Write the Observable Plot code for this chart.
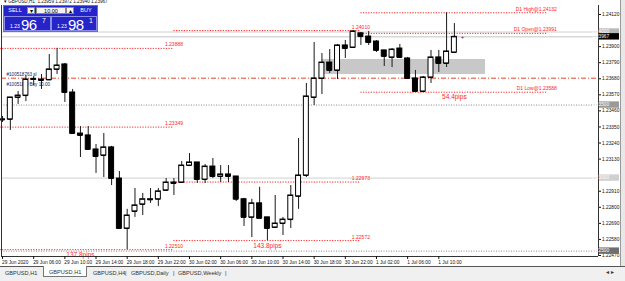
<!DOCTYPE html>
<html><head><meta charset="utf-8">
<script src="https://cdn.jsdelivr.net/npm/d3@7"></script>
<script src="https://cdn.jsdelivr.net/npm/@observablehq/plot@0.6"></script>
<style>
body{margin:0;background:#fff;font-family:"Liberation Sans",Arial,sans-serif;}
#wrap{position:relative;width:625px;height:281px;overflow:hidden;background:#fff;}
#chart svg{display:block}
#title{position:absolute;left:4px;top:-1px;font-size:4.6px;color:#111;white-space:pre}
#panel{position:absolute;left:3px;top:5px;width:95px;height:27px;background:#2424c8;border:1px solid #6a6ae0;box-sizing:border-box}
.b{position:absolute;color:#fff;font-size:5.5px;text-align:center;line-height:8px}
.w{position:absolute;background:#f2f2f2;color:#000;font-size:5.5px;text-align:center;line-height:7px;border:1px solid #888;box-sizing:border-box}
.px{position:absolute;top:10px;height:15px;border:1px solid #8a8ae8;box-sizing:border-box;color:#fff}
.px .s{position:absolute;left:5px;top:6px;font-size:5px}
.px .big{position:absolute;left:16px;top:-1px;font-size:15px;letter-spacing:-0.5px}
.px .sup{position:absolute;left:37px;top:0px;font-size:7px}
#tabs{position:absolute;left:0;top:266px;width:625px;height:15px;background:#f0f0f0;border-top:1px solid #555;box-sizing:border-box;font-size:5.6px;color:#333}
#tabs span{position:absolute;top:3px}
#tabs .act{top:-1px;height:11px;background:#fff;border:1px solid #777;border-top:none;box-sizing:border-box;padding:3px 5px 0 5px}
#strip{position:absolute;left:620px;top:0;width:5px;height:266px;background:#e8e8e8;border-left:1px solid #999}
</style></head><body>
<div id="wrap">
<div id="chart"></div>
<div id="title">▾ GBPUSD,H1  1.23959 1.23972 1.23940 1.23967</div>
<div id="panel">
  <div class="b" style="left:0;top:0;width:22px;height:9px">SELL</div>
  <div class="w" style="left:23px;top:1px;width:8px;height:7px">▾</div>
  <div class="w" style="left:32px;top:1px;width:30px;height:7px">10.00</div>
  <div class="w" style="left:62px;top:1px;width:8px;height:7px">▴</div>
  <div class="b" style="left:71px;top:0;width:22px;height:9px">BUY</div>
  <div class="px" style="left:0;width:47px"><span class="s">1.23</span><span class="big">96</span><span class="sup">7</span></div>
  <div class="px" style="left:47px;width:46px"><span class="s">1.23</span><span class="big">98</span><span class="sup">1</span></div>
</div>
<div id="strip"></div>
<div id="tabs">
  <span style="left:5px">GBPUSD,H1</span>
  <span class="act" style="left:43px">GBPUSD,H1</span>
  <span style="left:93px">GBPUSD,H4</span><span style="left:125px">|</span>
  <span style="left:131px">GBPUSD,Daily</span><span style="left:173px">|</span>
  <span style="left:178px">GBPUSD,Weekly</span><span style="left:225px">|</span>
  <span style="left:606px;top:2px">◂ ▸</span>
</div>
</div>
<script>
// ---- data (GBPUSD H1) ----
const firstBar = "2020-06-29T02:00Z";
const opens = [1.23402,1.23402,1.23552,1.23565,1.23675,1.23675,1.23672,1.23744,1.23778,1.23586,
1.23305,1.23292,1.23196,1.23155,1.23210,1.22997,1.22655,1.22772,1.22820,1.22855,
1.22855,1.22916,1.22970,1.22970,1.23086,1.23107,1.22990,1.23079,1.23011,1.23025,
1.23011,1.22855,1.22731,1.22827,1.22731,1.22662,1.22689,1.22716,1.22875,1.23018,
1.23552,1.23682,1.23791,1.23737,1.23908,1.23894,1.23991,1.23969,1.23935,1.23874,
1.23826,1.23887,1.23819,1.23682,1.23593,1.23689,1.23826,1.23785,1.23860];
const highs = [1.23422,1.23552,1.23593,1.23702,1.23696,1.23709,1.23846,1.23888,1.23785,1.23607,
1.23353,1.23353,1.23230,1.23305,1.23217,1.23045,1.22786,1.22929,1.22895,1.22929,
1.22929,1.22997,1.22997,1.23114,1.23168,1.23107,1.23093,1.23134,1.23086,1.23086,
1.23011,1.22861,1.22855,1.22937,1.22731,1.22881,1.22731,1.22949,1.23271,1.23648,
1.23928,1.23853,1.23880,1.23915,1.23942,1.24010,1.23997,1.24004,1.23942,1.23874,
1.23887,1.23915,1.23826,1.23737,1.23696,1.23874,1.23874,1.24132,1.24058];
const lows = [1.23381,1.23326,1.23504,1.23524,1.23634,1.23607,1.23668,1.23709,1.23518,1.23305,
1.23141,1.23196,1.23032,1.23004,1.22949,1.22655,1.22510,1.22731,1.22744,1.22827,
1.22806,1.22909,1.22881,1.22963,1.23079,1.22963,1.22963,1.22997,1.22970,1.22970,
1.22840,1.22669,1.22593,1.22724,1.22572,1.22662,1.22607,1.22655,1.22786,1.23004,
1.23497,1.23572,1.23716,1.23675,1.23819,1.23887,1.23908,1.23908,1.23860,1.23764,
1.23757,1.23819,1.23675,1.23588,1.23588,1.23648,1.23723,1.23757,1.23853];
const closes = [1.23398,1.23552,1.23565,1.23675,1.23678,1.23668,1.23744,1.23771,1.23586,1.23305,
1.23292,1.23196,1.23148,1.23210,1.22997,1.22655,1.22744,1.22813,1.22855,1.22851,
1.22909,1.22970,1.22963,1.23086,1.23107,1.22990,1.23079,1.23011,1.23025,1.23011,
1.22855,1.22731,1.22827,1.22724,1.22655,1.22689,1.22716,1.22881,1.23018,1.23559,
1.23682,1.23791,1.23737,1.23908,1.23887,1.24004,1.23969,1.23928,1.23874,1.23833,
1.23880,1.23826,1.23682,1.23593,1.23689,1.23826,1.23785,1.23867,1.23967];

const dayStarts = ["2020-06-29T00:00Z","2020-06-30T00:00Z","2020-07-01T00:00Z"];
const dayEnds   = ["2020-06-30T00:00Z","2020-07-01T00:00Z","2020-07-02T00:00Z"];
const dayHighs  = [1.23888, 1.24010, 1.24132];
const dayLows   = [1.22510, 1.22572, 1.23588];
const dayOpens  = [1.23349, 1.22973, 1.23991];
const dayPips   = ["137.8pips", "143.8pips", "54.4pips"];

const yTicks = [1.24120,1.23900,1.23790,1.23680,1.23570,1.23460,1.23350,1.23240,1.23130,1.22910,1.22800,1.22690,1.22580,1.22470];
const xTickTimes = ["2020-06-29T02:00Z","2020-06-29T06:00Z","2020-06-29T10:00Z","2020-06-29T14:00Z","2020-06-29T18:00Z","2020-06-29T22:00Z","2020-06-30T02:00Z","2020-06-30T06:00Z","2020-06-30T10:00Z","2020-06-30T14:00Z","2020-06-30T18:00Z","2020-06-30T22:00Z","2020-07-01T02:00Z","2020-07-01T06:00Z","2020-07-01T10:00Z"];
const xTickLabels = ["29 Jun 2020","29 Jun 06:00","29 Jun 10:00","29 Jun 14:00","29 Jun 18:00","29 Jun 22:00","30 Jun 02:00","30 Jun 06:00","30 Jun 10:00","30 Jun 14:00","30 Jun 18:00","30 Jun 22:00","1 Jul 02:00","1 Jul 06:00","1 Jul 10:00"];

const bidPrice = 1.23967;
const orderPrice = 1.23684;
const orderLabelTop = "#100518763 sl";
const orderLabelBottom = "#100518 0 Buy 10.00";
const roundLevels = [1.24000, 1.23500, 1.23000, 1.22500];
const zone = {x1: "2020-06-30T19:00Z", x2: "2020-07-01T16:00Z", y1: 1.23709, y2: 1.23812};
const xDomain = ["2020-06-29T01:52Z", "2020-07-02T06:30Z"];
const yDomain = [1.224632, 1.241816];

// ---- build tables ----
const H = 3600e3;
const t0 = new Date(firstBar).getTime();
const bars = opens.map((o, i) => ({t: new Date(t0 + i*H), o, h: highs[i], l: lows[i], c: closes[i]}));
bars.forEach(b => { b.a = new Date(+b.t - 0.32*H); b.b = new Date(+b.t + 0.32*H); b.up = b.c >= b.o; });
const days = dayStarts.map((s, i) => ({s: new Date(s), e: new Date(dayEnds[i]), hi: dayHighs[i], lo: dayLows[i], op: dayOpens[i], pips: dayPips[i],
  mid: new Date((new Date(s).getTime() + new Date(dayEnds[i]).getTime())/2)}));
const past = days.slice(0,2), cur = days.slice(2);
const xt = xTickTimes.map((d,i) => ({t: new Date(d), label: xTickLabels[i]}));
const xd = xDomain.map(d => new Date(d));
const RED = "#ff2626", DOT = "1.2,1.4";

const chart = Plot.plot({
  width: 625, height: 266,
  marginLeft: 1, marginRight: 27, marginTop: 5, marginBottom: 10,
  x: {type: "utc", domain: xd, axis: null},
  y: {domain: yDomain, axis: null},
  style: {fontFamily: "Liberation Sans, Arial, sans-serif", background: "#fff", overflow: "visible"},
  marks: [
    Plot.rect([zone], {x1: d => new Date(d.x1), x2: d => new Date(d.x2), y1: "y1", y2: "y2", fill: "#c8c8c8"}),
    // round level lines
    Plot.ruleY([roundLevels[0], roundLevels[2]], {stroke: "#cfcfcf", strokeWidth: 1}),
    Plot.ruleY([roundLevels[1], roundLevels[3]], {stroke: "#8a8a8a", strokeDasharray: "1,1.5"}),
    Plot.ruleY([bidPrice], {stroke: "#c4c4c4"}),
    Plot.ruleY([orderPrice], {stroke: "#e8452e", strokeDasharray: "5,2,1,2"}),
    Plot.text([orderLabelTop], {x: xd[0], y: orderPrice, text: d => d, dx: 5, dy: -3.5, textAnchor: "start", fontSize: 4.6, fill: "#1a1a50"}),
    Plot.text([orderLabelBottom], {x: xd[0], y: orderPrice, text: d => d, dx: 5, dy: 6, textAnchor: "start", fontSize: 4.6, fill: "#1a1a50"}),
    // day lines
    Plot.ruleY(days, {y: "hi", x1: "s", x2: "e", stroke: RED, strokeDasharray: DOT}),
    Plot.ruleY(days, {y: "lo", x1: "s", x2: "e", stroke: RED, strokeDasharray: DOT}),
    Plot.ruleY(days, {y: "op", x1: "s", x2: "e", stroke: RED, strokeDasharray: DOT}),
    Plot.text(past, {x: "e", y: "hi", text: d => d.hi.toFixed(5), dy: -3.5, fontSize: 5, fill: RED}),
    Plot.text(past, {x: "e", y: "lo", text: d => d.lo.toFixed(5), dy: -3.5, fontSize: 5, fill: RED}),
    Plot.text(past, {x: "e", y: "op", text: d => d.op.toFixed(5), dy: -3.5, fontSize: 5, fill: RED}),
    Plot.text(cur, {x: "e", y: "hi", text: d => "D1 High@" + d.hi.toFixed(5), textAnchor: "end", dx: 9, dy: -3.5, fontSize: 5, fill: RED}),
    Plot.text(cur, {x: "e", y: "op", text: d => "D1 Open@" + d.op.toFixed(5), textAnchor: "end", dx: 9, dy: -3.5, fontSize: 5, fill: RED}),
    Plot.text(cur, {x: "e", y: "lo", text: d => "D1 Low@" + d.lo.toFixed(5), textAnchor: "end", dx: 9, dy: -3.5, fontSize: 5, fill: RED}),
    Plot.text(days, {x: "mid", y: "lo", text: "pips", dy: 5, fontSize: 6.5, fill: RED}),
    // candles
    Plot.ruleX(bars, {x: "t", y1: "l", y2: "h", stroke: "#1a1a1a", strokeWidth: 1}),
    Plot.rect(bars, {x1: "a", x2: "b", y1: "o", y2: "c", fill: d => d.up ? "#fff" : "#000", stroke: "#000", strokeWidth: 1}),
    Plot.ruleY(bars, {y: "o", x1: "a", x2: "b", stroke: "#000"}),
    Plot.ruleY(bars, {y: "c", x1: "a", x2: "b", stroke: "#000"}),
    Plot.text([bars[bars.length - 1]], {x: "t", y: "c", text: () => "+", dx: 8, fontSize: 6, fill: "#333"}),
    // frame
    Plot.ruleX([xd[0], xd[1]], {stroke: "#333"}),
    Plot.ruleY([yDomain[0]], {stroke: "#333"}),
    // axes
    Plot.axisY(yTicks, {anchor: "right", tickSize: 2, tickPadding: 1.5, tickFormat: d3.format(".5f"), fontSize: 4.8, color: "#111"}),
    Plot.axisX(xt.map(d => d.t), {anchor: "bottom", tickSize: 3, tickFormat: () => "", color: "#111"}),
    Plot.text(xt, {x: "t", frameAnchor: "bottom", dy: 7, dx: -0.5, textAnchor: "start", text: "label", fontSize: 4.8, fill: "#111"})
  ]
});
document.getElementById("chart").appendChild(chart);

// price boxes on the right axis, positioned through the y scale
const ys = chart.scale("y");
const boxes = [
  {v: roundLevels[0], fill: "#b8b8b8", text: "#fff"},
  {v: bidPrice, fill: "#000", text: "#fff"},
  {v: roundLevels[1], fill: "#9a9a9a", text: "#fff"},
  {v: roundLevels[2], fill: "#d0d0d0", text: "#fff"},
  {v: roundLevels[3], fill: "#6e6e6e", text: "#fff"}
];
const svg = d3.select(chart);
boxes.forEach(b => {
  const y = ys.apply(b.v);
  const g = svg.append("g");
  g.append("rect").attr("x", 599).attr("y", y - 3.2).attr("width", 20).attr("height", 6.4).attr("fill", b.fill);
  g.append("text").attr("x", 600.5).attr("y", y + 1.7).attr("font-size", 4.8).attr("fill", b.text).text(b.v.toFixed(5));
});
</script>
</body></html>
